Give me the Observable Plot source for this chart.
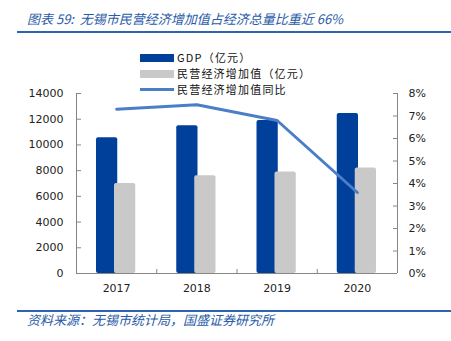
<!DOCTYPE html>
<html><head><meta charset="utf-8">
<script src="https://cdn.jsdelivr.net/npm/d3@7"></script>
<script src="https://cdn.jsdelivr.net/npm/@observablehq/plot@0.6"></script>
<style>
body{margin:0;background:#fff;}
#wrap{position:relative;width:451px;height:341px;overflow:hidden;font-family:"Noto Sans CJK SC",sans-serif;}
.title{position:absolute;left:27px;top:10px;font-size:13px;font-style:italic;color:#2a5ba8;white-space:nowrap;line-height:18px;}
.hline{position:absolute;left:17px;right:0;height:2px;background:#2e63b2;}
.caption{position:absolute;left:27px;top:311px;font-size:13px;font-style:italic;color:#2a5ba8;white-space:nowrap;line-height:18px;}
#chart{position:absolute;left:0;top:80px;}
.leg{position:absolute;left:140px;height:15px;display:flex;align-items:center;z-index:2;font-size:11px;line-height:15px;color:#111;white-space:nowrap;letter-spacing:1.2px;}
.leg span{display:block;height:15px;line-height:15px;overflow:visible;}
.sw{width:34px;height:8px;margin-right:3px;}
.ln{width:34px;height:3px;margin-right:3px;}
</style></head>
<body>
<div id="wrap">
  <div class="title">图表 59:&nbsp; 无锡市民营经济增加值占经济总量比重近 66%</div>
  <div class="hline" style="top:31px"></div>
  <div id="chart"></div>
  <div id="legend"></div>
  <div class="hline" style="top:310px"></div>
  <div class="caption">资料来源：无锡市统计局，国盛证券研究所</div>
</div>
<script>
const years = [2017, 2018, 2019, 2020];
const gdp = [10550, 11500, 11900, 12450];
const pvt = [7000, 7600, 7900, 8200];
const growth = [7.3, 7.5, 6.8, 3.6];
const leftTicks = [0, 2000, 4000, 6000, 8000, 10000, 12000, 14000];
const rightTicks = [0, 1, 2, 3, 4, 5, 6, 7, 8];
const seriesNames = ["GDP（亿元）", "民营经济增加值（亿元）", "民营经济增加值同比"];
const colors = ["#00409a", "#c9c9c9", "#4a7fc8"];

const k = leftTicks[leftTicks.length - 1] / rightTicks[rightTicks.length - 1];
const data = years.map((y, i) => ({year: y, gdp: gdp[i], pvt: pvt[i], g: growth[i]}));

const W = 451, H = 230, mt = 13, mb = 37, ml = 76, mr = 54;
const pw = W - ml - mr, ph = H - mt - mb;
const axisColor = "#868686";

const chart = Plot.plot({
  width: W, height: H, marginTop: mt, marginBottom: mb, marginLeft: ml, marginRight: mr,
  style: {background: "transparent", fontFamily: "DejaVu Sans", fontSize: "11px", color: "#222"},
  x: {type: "linear", domain: [years[0] - 0.5, years[years.length - 1] + 0.5], label: null},
  y: {domain: [0, leftTicks[leftTicks.length - 1]], label: null},
  marks: [
    Plot.rectY(data, {x1: d => d.year - 0.5, x2: d => d.year + 0.5, y: "gdp", fill: colors[0], insetLeft: 20, insetRight: 39, rx: 2}),
    Plot.rectY(data, {x1: d => d.year - 0.5, x2: d => d.year + 0.5, y: "pvt", fill: colors[1], insetLeft: 38, insetRight: 21, rx: 2}),
    Plot.ruleY([0], {stroke: axisColor}),
    Plot.ruleX([years[0] - 0.5, years[years.length - 1] + 0.5], {stroke: axisColor}),
    Plot.ruleX(years.slice(1).map(y => y - 0.5), {stroke: axisColor, insetTop: ph - 4}),
    Plot.ruleY(leftTicks, {stroke: axisColor, insetRight: pw - 5}),
    Plot.ruleY(rightTicks.map(v => v * k), {stroke: axisColor, insetLeft: pw - 4}),
    Plot.line(data, {x: "year", y: d => d.g * k, stroke: colors[2], strokeWidth: 3}),
    Plot.axisY({anchor: "left", ticks: leftTicks, tickFormat: d => String(d), tickSize: 0, tickPadding: 13, label: null}),
    Plot.axisY({anchor: "right", ticks: rightTicks.map(v => v * k), tickFormat: d => Math.round(d / k) + "%", tickSize: 0, tickPadding: 11, label: null, textAnchor: "start"}),
    Plot.axisX({ticks: years, tickFormat: d => String(d), tickSize: 0, tickPadding: 11, label: null})
  ]
});
document.getElementById("chart").appendChild(chart);

const legend = document.getElementById("legend");
const rowTops = [50, 66, 82];
seriesNames.forEach((name, i) => {
  const row = document.createElement("div");
  row.className = "leg";
  row.style.top = rowTops[i] + "px";
  const sw = document.createElement("div");
  sw.className = i === 2 ? "ln" : "sw";
  sw.style.background = colors[i];
  const t = document.createElement("span");
  t.textContent = name;
  row.appendChild(sw); row.appendChild(t);
  legend.appendChild(row);
});
</script>
</body></html>
